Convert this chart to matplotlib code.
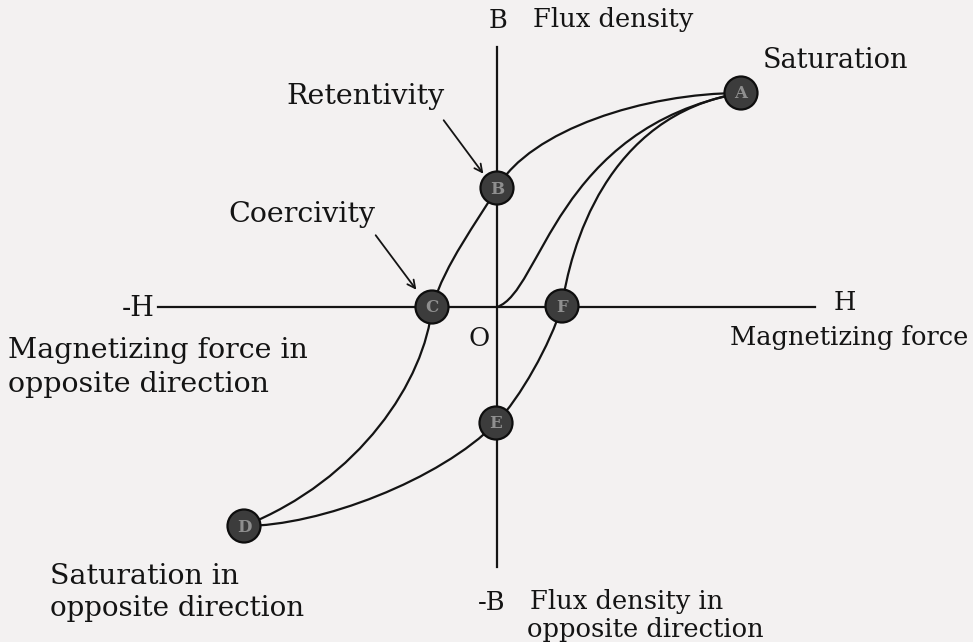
import matplotlib
matplotlib.use("Agg")
import matplotlib.pyplot as plt
from matplotlib.path import Path
from matplotlib.patches import PathPatch, Circle

# key points of the loop (pixel coords, y down)
point_names = ["A", "B", "C", "D", "E", "F"]
point_x = [741, 497, 432, 244, 496, 562]
point_y = [93, 188, 307, 526, 423, 306]
origin = (497, 307)

# bezier control points for each branch: start, c1, c2, end
upper_branch = [
    [(741, 93), (645, 93), (530, 130), (497, 188)],
    [(497, 188), (476, 224), (446, 262), (432, 307)],
    [(432, 307), (425, 380), (360, 480), (244, 526)],
]
lower_branch = [
    [(244, 526), (320, 526), (440, 480), (496, 423)],
    [(496, 423), (520, 398), (550, 345), (562, 306)],
    [(562, 306), (570, 250), (605, 115), (741, 93)],
]
initial_curve = [
    [(497, 307), (542, 292), (555, 128), (741, 93)],
]

fig = plt.figure(figsize=(9.73, 6.42), dpi=100)
fig.patch.set_facecolor("#f3f1f1")
ax = fig.add_axes([0, 0, 1, 1])
ax.set_xlim(0, 973)
ax.set_ylim(642, 0)
ax.axis("off")

FONT = "DejaVu Serif"
INK = "#141414"


def draw_bezier(segs):
    verts = []
    codes = []
    for i, s in enumerate(segs):
        if i == 0:
            verts.append(s[0])
            codes.append(Path.MOVETO)
        verts += s[1:]
        codes += [Path.CURVE4] * 3
    ax.add_patch(PathPatch(Path(verts, codes), fill=False, lw=1.6, color=INK, zorder=2))


# axes lines
ax.plot([158, 815], [origin[1], origin[1]], color=INK, lw=1.6, zorder=1)
ax.plot([origin[0], origin[0]], [47, 567], color=INK, lw=1.6, zorder=1)

draw_bezier(upper_branch)
draw_bezier(lower_branch)
draw_bezier(initial_curve)

# labelled dots
for name, x, y in zip(point_names, point_x, point_y):
    ax.add_patch(Circle((x, y), 16.5, facecolor="#3c3c3c", edgecolor="#0e0e0e", lw=1.6, zorder=4))
    ax.text(x, y + 1, name, ha="center", va="center", fontsize=12, family=FONT,
            color="#8f8f8f", fontweight="bold", zorder=5)

# arrows
ax.annotate("", xy=(485, 176), xytext=(442, 118),
            arrowprops=dict(arrowstyle="->", color=INK, lw=1.3, mutation_scale=14))
ax.annotate("", xy=(418, 292), xytext=(374, 233),
            arrowprops=dict(arrowstyle="->", color=INK, lw=1.3, mutation_scale=14))


def label(x, y, s, ha="left", fs=19.5):
    ax.text(x, y, s, ha=ha, va="center", family=FONT, fontsize=fs, color=INK)


label(498, 20, "B", ha="center", fs=18.5)
label(533, 20, "Flux density", fs=18.5)
label(763, 60, "Saturation")
label(445, 97, "Retentivity", ha="right", fs=20.5)
label(375, 215, "Coercivity", ha="right", fs=20.5)
label(155, 308, "-H", ha="right")
label(845, 302, "H", ha="center", fs=18.5)
label(479, 338, "O", ha="center", fs=18.5)
label(8, 350, "Magnetizing force in", fs=20.5)
label(8, 384, "opposite direction", fs=20.5)
label(968, 338, "Magnetizing force", ha="right", fs=18.5)
label(50, 576, "Saturation in", fs=20.5)
label(50, 609, "opposite direction", fs=20)
label(492, 602, "-B", ha="center", fs=18.5)
label(530, 602, "Flux density in", fs=18.5)
label(527, 629, "opposite direction", fs=18.5)

fig.savefig("out.png", dpi=100, facecolor=fig.get_facecolor())
